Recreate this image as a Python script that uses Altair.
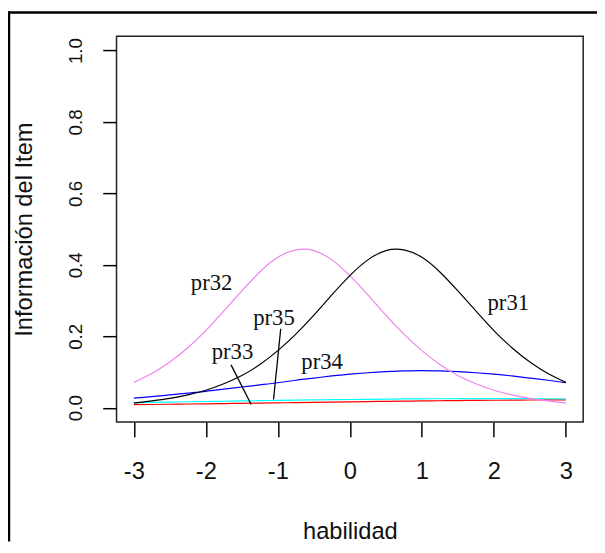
import altair as alt
import pandas as pd

# ability grid
theta = [-3.0, -2.75, -2.5, -2.25, -2.0, -1.75, -1.5, -1.25, -1.0, -0.75, -0.5, -0.25,
         0.0, 0.25, 0.5, 0.75, 1.0, 1.25, 1.5, 1.75, 2.0, 2.25, 2.5, 2.75, 3.0]

# item information values
pr31 = [0.013, 0.019, 0.026, 0.036, 0.049, 0.067, 0.090, 0.121, 0.160, 0.206, 0.259, 0.316,
        0.370, 0.414, 0.440, 0.442, 0.421, 0.380, 0.327, 0.271, 0.216, 0.168, 0.128, 0.096, 0.071]
pr32 = [0.071, 0.096, 0.128, 0.168, 0.216, 0.271, 0.327, 0.380, 0.421, 0.442, 0.440, 0.414,
        0.370, 0.316, 0.259, 0.206, 0.160, 0.121, 0.090, 0.067, 0.049, 0.036, 0.026, 0.019, 0.013]
pr33 = [0.0085, 0.0091, 0.0097, 0.0104, 0.0110, 0.0117, 0.0124, 0.0131, 0.0138, 0.0145, 0.0152, 0.0159,
        0.0166, 0.0172, 0.0179, 0.0185, 0.0191, 0.0196, 0.0201, 0.0206, 0.0210, 0.0213, 0.0216, 0.0219, 0.0221]
pr34 = [0.027, 0.031, 0.036, 0.041, 0.046, 0.052, 0.058, 0.064, 0.070, 0.077, 0.083, 0.089,
        0.094, 0.098, 0.101, 0.103, 0.104, 0.103, 0.101, 0.098, 0.094, 0.089, 0.083, 0.077, 0.070]
pr35 = [0.0143, 0.0151, 0.0159, 0.0167, 0.0174, 0.0182, 0.0190, 0.0198, 0.0205, 0.0212, 0.0219, 0.0225,
        0.0231, 0.0236, 0.0241, 0.0246, 0.0250, 0.0252, 0.0254, 0.0256, 0.0256, 0.0256, 0.0254, 0.0252, 0.0250]

items = ["pr33", "pr35", "pr34", "pr32", "pr31"]
series = {"pr31": pr31, "pr32": pr32, "pr33": pr33, "pr34": pr34, "pr35": pr35}
colors = {"pr31": "black", "pr32": "violet", "pr33": "red", "pr34": "blue", "pr35": "cyan"}

# curve labels
lab_text = ["pr31", "pr32", "pr33", "pr34", "pr35"]
lab_x = [2.20, -1.92, -1.63, -0.385, -1.054]
lab_y = [0.294, 0.349, 0.156, 0.128, 0.251]

# leader segments (pr33, pr35)
seg_x = [-1.65, -0.96]
seg_y = [0.120, 0.221]
seg_x2 = [-1.37, -1.06]
seg_y2 = [0.009, 0.023]

x_ticks = [-3, -2, -1, 0, 1, 2, 3]
y_ticks = [0.0, 0.2, 0.4, 0.6, 0.8, 1.0]

rows = []
for i, it in enumerate(items):
    for t, v in zip(theta, series[it]):
        rows.append({"theta": t, "info": v, "item": it, "ord": i})
df = pd.DataFrame(rows)
labels = pd.DataFrame({"theta": lab_x, "info": lab_y, "text": lab_text})
segs = pd.DataFrame({"theta": seg_x, "info": seg_y, "theta2": seg_x2, "info2": seg_y2})

W, H = 473, 391
sans = "Liberation Sans"

xscale = alt.Scale(domain=[-3.24, 3.24], nice=False, zero=False)
yscale = alt.Scale(domain=[-0.04, 1.04], nice=False, zero=False)
xaxis = alt.Axis(values=x_ticks, labelExpr="toString(datum.value)", domain=False, grid=False,
                 tickSize=15, tickWidth=1.5, tickColor="black",
                 labelFont=sans, labelFontSize=24, labelColor="#111",
                 labelBaseline="alphabetic", labelPadding=42, labelFlush=False,
                 title="habilidad", titleFont=sans, titleFontSize=24,
                 titleFontWeight="normal", titleColor="#111",
                 titleX=W / 2, titleY=118, titleBaseline="alphabetic", titleAlign="center")
yaxis = alt.Axis(values=y_ticks, format=".1f", domain=False, grid=False,
                 tickSize=14, tickWidth=1.5, tickColor="black",
                 labelFont=sans, labelFontSize=19, labelColor="#111",
                 labelAngle=270, labelAlign="center", labelBaseline="alphabetic",
                 labelPadding=22, labelFlush=False,
                 title="Información del Item", titleFont=sans, titleFontSize=24,
                 titleFontWeight="normal", titleColor="#111", titleAngle=270,
                 titleX=-86, titleY=H / 2, titleBaseline="alphabetic", titleAlign="center")

X = alt.X("theta:Q", scale=xscale, axis=xaxis)
Y = alt.Y("info:Q", scale=yscale, axis=yaxis)

lines = alt.Chart(df).mark_line(strokeWidth=1.2, interpolate="natural", clip=True).encode(
    x=X, y=Y,
    color=alt.Color("item:N", scale=alt.Scale(domain=list(colors.keys()), range=list(colors.values())), legend=None),
    order=alt.Order("theta:Q"),
    detail="item:N",
)

leaders = alt.Chart(segs).mark_rule(color="black", strokeWidth=1.3).encode(
    x=X, y=Y, x2="theta2:Q", y2="info2:Q"
)

texts = alt.Chart(labels).mark_text(font="Liberation Serif", fontSize=23, color="#111",
                                     align="center", baseline="middle").encode(
    x=X, y=Y, text="text:N"
)

one = pd.DataFrame({"a": [0]})
frame_left = alt.Chart(one).mark_rule(color="black", strokeWidth=2.5, clip=False).encode(
    x=alt.value(-109), y=alt.value(-25), y2=alt.value(H + 121)
)
frame_top = alt.Chart(one).mark_rule(color="black", strokeWidth=2.5, clip=False).encode(
    x=alt.value(-110), x2=alt.value(W + 14), y=alt.value(-24)
)

chart = alt.layer(lines, leaders, texts, frame_left, frame_top).properties(
    width=W, height=H,
    padding={"left": 110, "top": 25, "right": 14, "bottom": 121},
    autosize=alt.AutoSizeParams(type="none"),
    background="white",
).configure_view(stroke="#222", strokeWidth=1.5)

chart.save("out.html", embed_options={"renderer": "svg", "actions": False})
